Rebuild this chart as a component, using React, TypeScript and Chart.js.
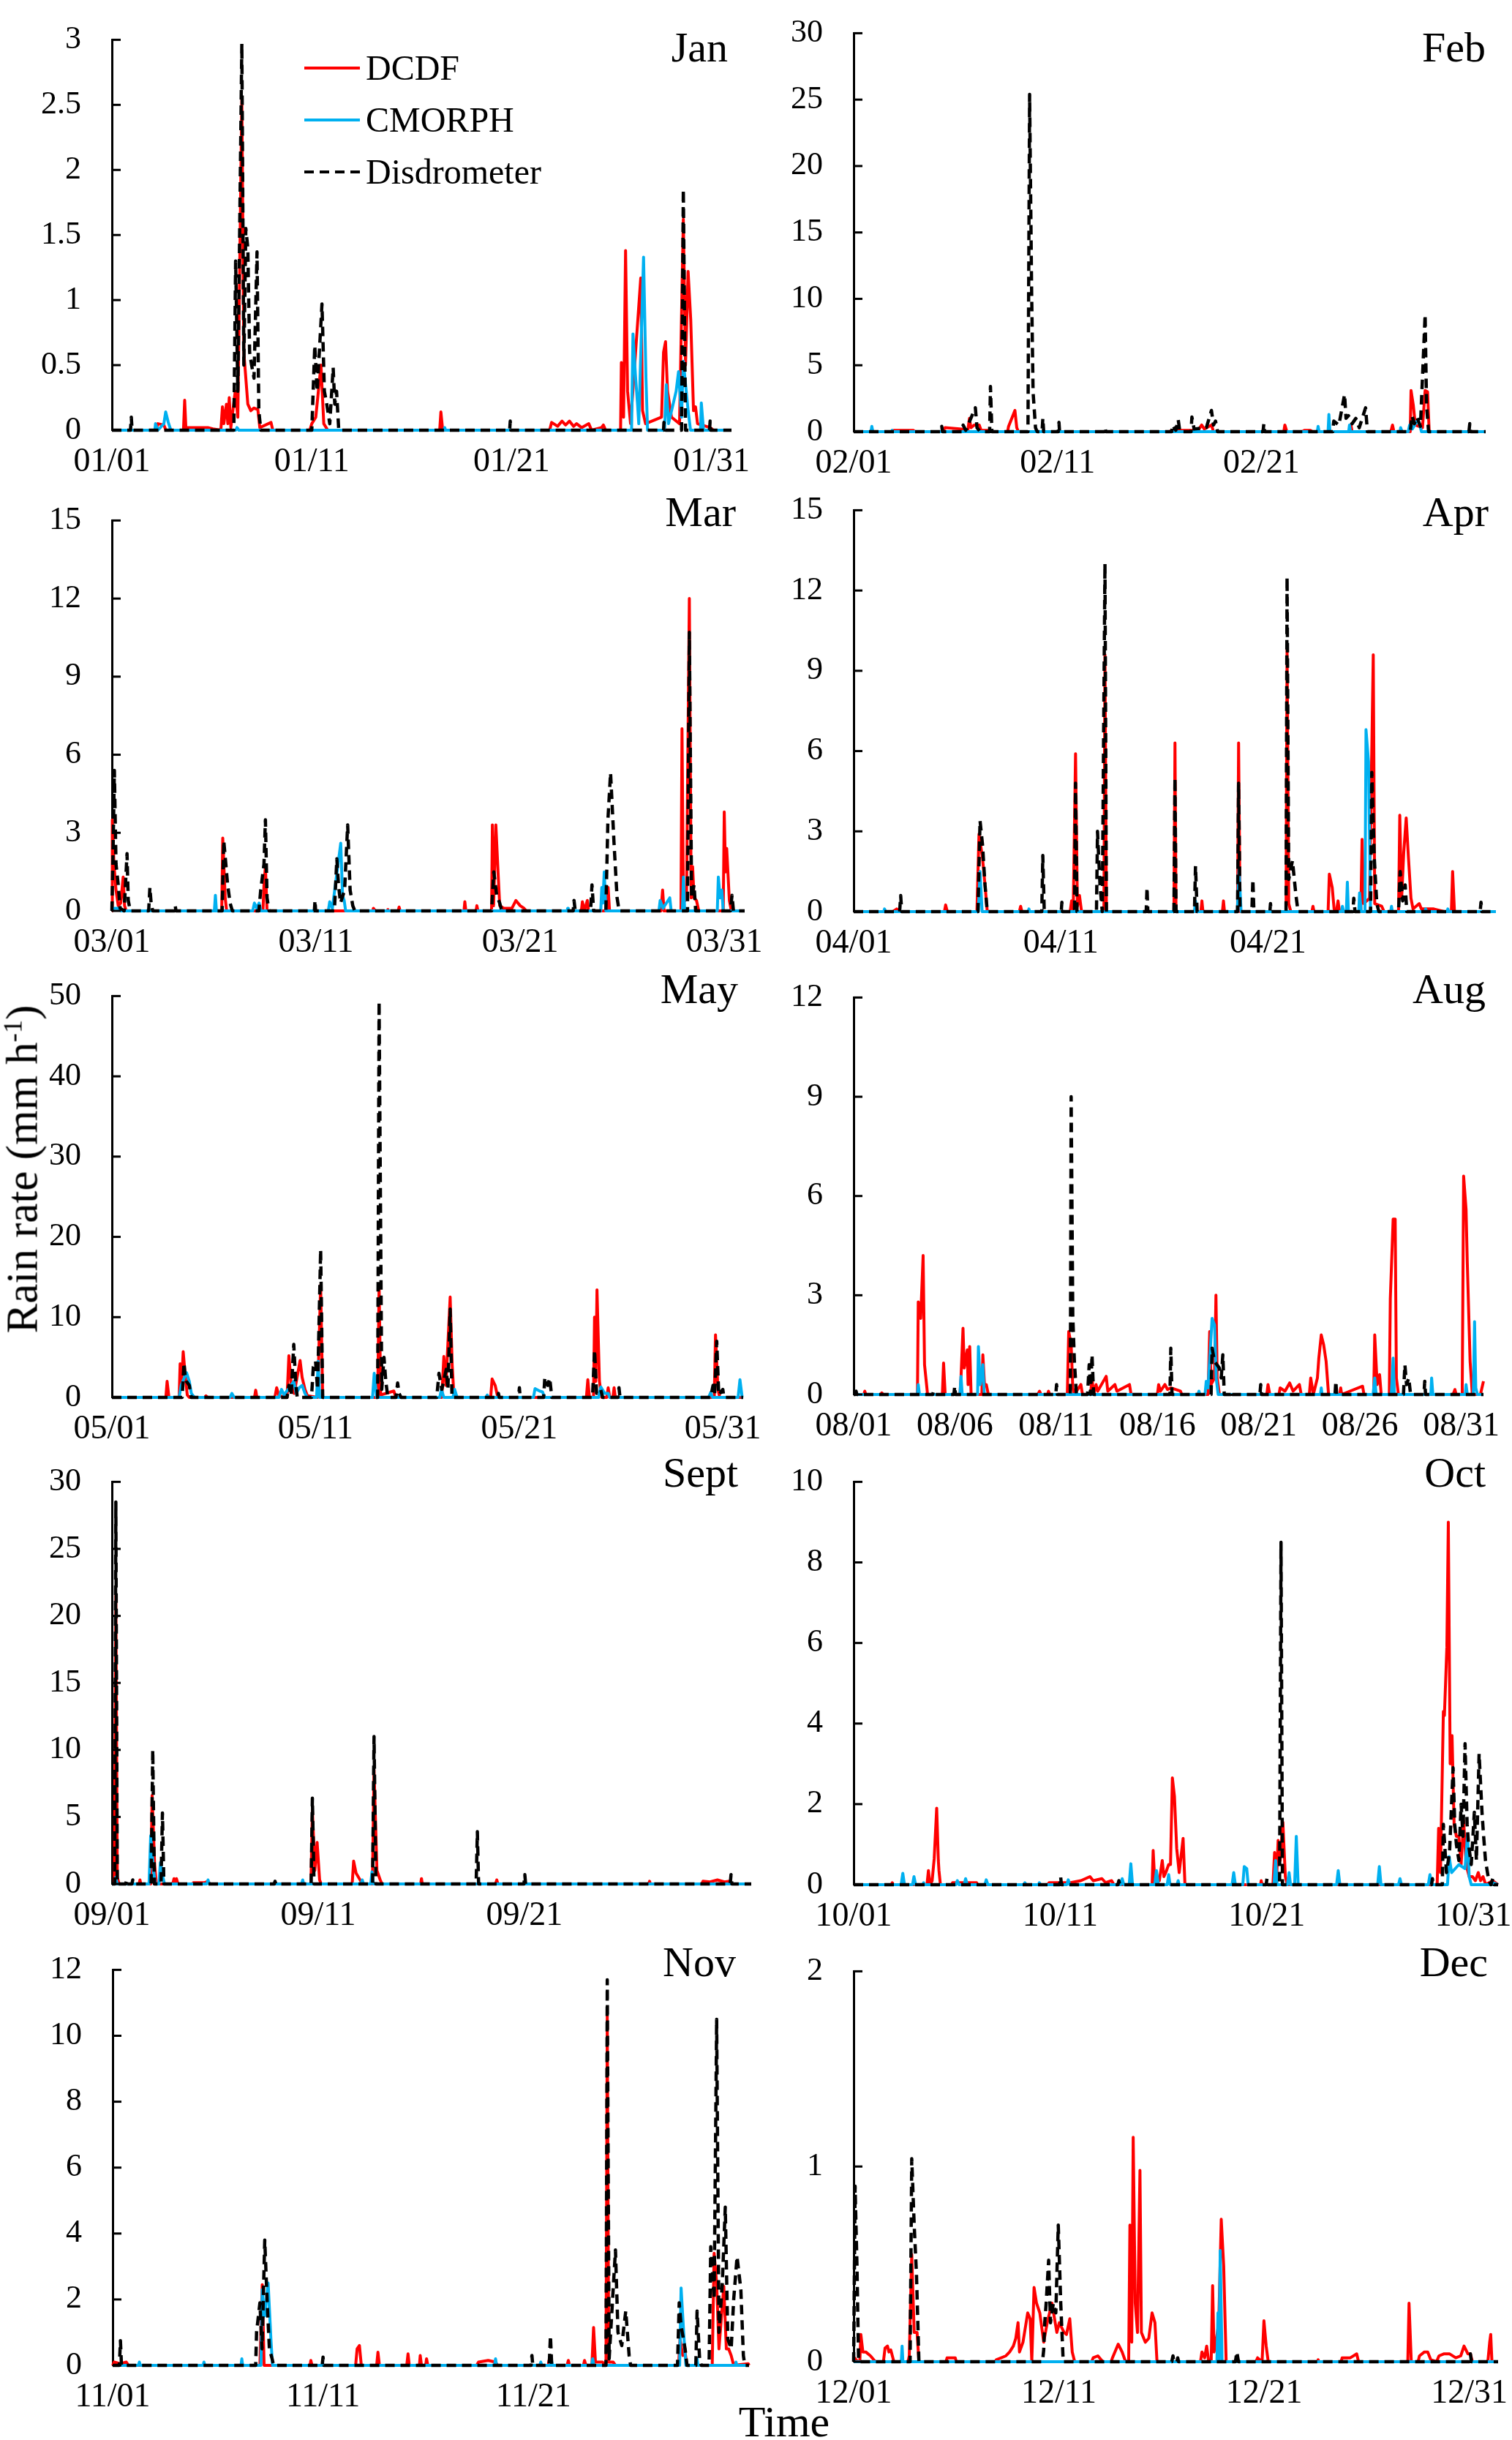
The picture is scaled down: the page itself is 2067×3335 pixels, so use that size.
import { useEffect, useRef } from "react";
import Chart from "chart.js/auto";

type Pt = [number, number];

// ---------- data: [day of month, rain rate mm/h] ----------
const janDcdf: Pt[] = [[1,0],[3.2,0],[3.3,0.05],[3.6,0.04],[3.7,0],[4.58,0],[4.64,0.23],[4.7,0.02],[5.0,0.02],[5.8,0.02],[6.05,0.01],[6.45,0],[6.53,0.18],[6.6,0.05],[6.73,0.2],[6.8,0.05],[6.87,0.25],[6.95,0.02],[7.17,0.3],[7.3,0.1],[7.5,2.55],[7.6,0.6],[7.7,0.4],[7.8,0.2],[7.95,0.15],[8.1,0.17],[8.3,0.16],[8.4,0.02],[8.96,0.06],[9.05,0],[10.9,0],[11.0,0.05],[11.2,0.1],[11.46,0.5],[11.6,0.05],[11.8,0],[17.4,0],[17.46,0.14],[17.55,0],[22.9,0],[23.0,0.06],[23.3,0.03],[23.52,0.07],[23.7,0.04],[23.89,0.07],[24.1,0.03],[24.25,0.05],[24.5,0.02],[24.86,0.05],[25.0,0],[25.5,0.02],[25.59,0.04],[25.7,0],[26.45,0],[26.49,0.52],[26.6,0.1],[26.7,1.38],[26.8,0.3],[26.95,0.05],[27.46,1.17],[27.55,0.15],[27.7,0.05],[28.5,0.1],[28.6,0.6],[28.7,0.68],[28.8,0.3],[29.0,0.1],[29.4,0.05],[29.59,1.62],[29.7,0.5],[29.83,1.22],[29.96,0.85],[30.1,0.15],[30.2,0.18],[30.3,0.05],[30.93,0.02],[31.1,0],[32,0]];
const janCmorph: Pt[] = [[1,0],[3.15,0],[3.18,0.05],[3.3,0],[3.6,0.05],[3.69,0.14],[3.82,0.06],[3.95,0],[7.2,0],[7.26,0.02],[7.35,0],[17.6,0],[17.65,0.02],[17.7,0],[27.0,0],[27.07,0.74],[27.19,0.43],[27.3,0.2],[27.36,0.05],[27.6,1.33],[27.72,0.4],[27.8,0],[28.65,0],[28.74,0.35],[28.85,0.05],[29.23,0.3],[29.35,0.45],[29.5,0.1],[29.59,0.53],[29.83,0.15],[29.95,0],[30.45,0],[30.49,0.21],[30.6,0],[32,0]];
const janDisdro: Pt[] = [[1,0],[1.93,0],[1.97,0.1],[2.01,0],[7.1,0],[7.19,1.3],[7.3,0.3],[7.5,2.97],[7.6,0.5],[7.7,1.55],[7.8,1.4],[7.89,0.6],[7.99,0.5],[8.11,0.4],[8.26,1.37],[8.35,0.15],[8.45,0],[11.0,0],[11.15,0.65],[11.27,0.3],[11.51,0.97],[11.63,0.3],[11.75,0.2],[11.9,0.05],[12.07,0.48],[12.15,0.2],[12.24,0.3],[12.35,0],[20.9,0],[20.93,0.07],[20.96,0],[28.6,0],[28.62,0.06],[28.7,0],[29.5,0],[29.59,1.85],[29.7,0],[30.9,0],[30.93,0.07],[30.96,0],[32,0]];

const febDcdf: Pt[] = [[1,0],[2.9,0],[2.97,0.1],[3.93,0.1],[4.0,0],[5.35,0],[5.48,0.3],[6.3,0.2],[6.6,0.1],[6.68,1.0],[6.75,0.3],[6.92,0.5],[7.16,0.5],[7.25,0.1],[7.6,0.1],[7.7,0],[8.55,0],[8.6,0.4],[8.91,1.6],[9.0,0.3],[9.08,0],[16.5,0],[16.6,0.1],[17.9,0.1],[18.07,0.5],[18.2,0.2],[18.55,0.5],[18.65,0],[22.1,0],[22.15,0.5],[22.25,0],[23.0,0],[23.11,0.1],[23.4,0.1],[23.5,0],[25.35,0],[25.39,0.5],[25.45,0],[27.35,0],[27.43,0.5],[27.5,0],[28.3,0],[28.34,3.1],[28.45,2.0],[28.55,0.5],[28.9,0.3],[29.03,3.1],[29.15,3.0],[29.23,0],[32,0]];
const febCmorph: Pt[] = [[1,0],[1.85,0],[1.89,0.4],[1.94,0],[2.85,0],[2.89,0.1],[2.93,0],[23.74,0],[23.78,0.4],[23.83,0],[24.27,0],[24.31,1.3],[24.36,0],[25.28,0],[25.32,0.5],[25.37,0],[27.8,0],[27.83,0.3],[27.9,0],[28.2,0],[28.27,0.5],[28.4,0.2],[28.63,0.8],[28.75,0.6],[28.85,0],[32,0]];
const febDisdro: Pt[] = [[1,0],[5.28,0],[5.32,0.4],[5.36,0],[6.3,0],[6.37,0.5],[6.5,0.1],[6.97,1.8],[7.05,0.3],[7.2,0],[7.67,0],[7.71,3.4],[7.78,0],[9.55,0],[9.63,25.4],[9.73,10.5],[9.8,3.0],[9.92,0.3],[10.0,0],[10.24,0],[10.28,1.0],[10.32,0],[11.04,0],[11.07,0.7],[11.1,0],[13.3,0],[13.33,0.3],[13.37,0],[16.6,0],[16.64,0.5],[16.8,0.1],[16.92,0.9],[17.0,0],[17.55,0],[17.59,1.1],[17.7,0.2],[18.3,0.3],[18.55,1.6],[18.65,0.5],[18.75,0.8],[18.85,0],[21.08,0],[21.12,0.6],[21.16,0],[24.5,0],[24.55,0.8],[24.8,0.5],[25.08,2.8],[25.15,1.0],[25.27,1.2],[25.45,0.6],[25.63,1.0],[25.8,0.3],[26.11,1.8],[26.2,0],[28.3,0],[28.39,1.2],[28.5,0.6],[28.63,1.1],[28.8,0.4],[29.03,8.8],[29.1,2.0],[29.2,0],[31.18,0],[31.22,0.6],[31.26,0],[32,0]];

const marDcdf: Pt[] = [[1,0],[1.02,3.5],[1.1,1.8],[1.2,0.8],[1.31,0.2],[1.43,0.3],[1.55,1.3],[1.62,0.2],[1.7,0],[6.38,0],[6.43,2.8],[6.55,0.5],[6.62,0],[8.4,0],[8.45,1.0],[8.52,1.7],[8.6,0],[13.78,0],[13.81,0.1],[13.9,0],[14.5,0],[14.52,0.05],[14.56,0],[15.03,0],[15.07,0.15],[15.12,0],[18.25,0],[18.29,0.35],[18.34,0],[18.84,0],[18.88,0.2],[18.93,0],[19.6,0],[19.64,3.3],[19.7,0.2],[19.81,3.3],[19.93,1.3],[20.0,0.2],[20.2,0.1],[20.6,0.1],[20.79,0.4],[21.0,0.2],[21.19,0.1],[21.3,0],[24.0,0],[24.05,0.35],[24.15,0],[24.29,0.4],[24.35,0],[25.25,0],[25.31,0.9],[25.38,0],[27.9,0],[27.98,0.8],[28.05,0],[28.88,0],[28.93,7.0],[29.0,0.3],[29.15,0.5],[29.29,12.0],[29.38,0.5],[29.45,1.7],[29.52,0.5],[29.64,0.4],[29.75,0],[30.95,0],[31.0,3.8],[31.06,1.5],[31.12,2.4],[31.25,0.4],[31.35,0],[32,0]];
const marCmorph: Pt[] = [[1,0],[1.1,0.1],[1.3,0.1],[1.45,0],[6.02,0],[6.07,0.6],[6.12,0],[7.9,0],[7.98,0.3],[8.1,0.1],[8.21,0.3],[8.3,0],[11.6,0],[11.67,0.35],[11.8,0.1],[12.21,2.6],[12.3,0.6],[12.38,0.4],[12.45,0],[23.3,0],[23.33,0.1],[23.36,0],[24.95,0],[25.0,0.9],[25.05,0.3],[25.12,1.5],[25.2,0],[27.8,0],[27.86,0.4],[28.0,0.1],[28.33,0.5],[28.4,0],[28.95,0],[29.0,1.3],[29.06,0],[30.66,0],[30.71,1.3],[30.8,0.5],[30.88,0.8],[30.95,0],[32,0]];
const marDisdro: Pt[] = [[1,0],[1.06,2.5],[1.12,5.4],[1.2,1.8],[1.31,1.0],[1.4,0.1],[1.6,0],[1.74,2.2],[1.8,0.4],[1.9,0],[2.8,0],[2.86,0.9],[2.92,0.3],[3.0,0],[4.07,0],[4.1,0.2],[4.14,0],[6.4,0],[6.48,2.7],[6.67,1.0],[6.79,0.3],[6.9,0],[8.2,0],[8.29,0.8],[8.45,1.8],[8.52,3.5],[8.6,0.5],[8.7,0],[10.92,0],[10.95,0.4],[10.98,0],[11.9,0],[12.02,2.0],[12.1,1.0],[12.2,0.3],[12.4,0.8],[12.55,3.3],[12.67,0.8],[12.8,0.2],[12.9,0],[19.6,0],[19.71,1.5],[19.85,0.6],[20.0,0.3],[20.1,0],[23.6,0],[23.64,0.4],[23.7,0],[24.45,0],[24.52,1.0],[24.6,0],[25.2,0],[25.3,3.5],[25.43,5.3],[25.6,2.6],[25.75,0.5],[25.85,0],[29.2,0],[29.29,10.7],[29.4,0.5],[29.52,1.0],[29.6,0],[31.3,0],[31.38,0.6],[31.45,0],[32,0]];

const aprDcdf: Pt[] = [[1,0],[2.9,0],[3.08,0.1],[3.2,0],[5.38,0],[5.44,0.25],[5.52,0],[6.95,0],[7.05,2.9],[7.22,2.0],[7.34,1.0],[7.45,0],[9.0,0],[9.06,0.2],[9.12,0],[11.45,0],[11.52,0.4],[11.6,0.1],[11.71,5.9],[11.8,0.2],[11.9,0.6],[12.0,0],[13.08,0],[13.13,9.6],[13.2,0],[16.46,0],[16.51,6.3],[16.56,0],[17.76,0],[17.81,0.4],[17.86,0],[18.8,0],[18.85,0.4],[18.9,0],[19.53,0],[19.58,6.3],[19.65,0],[21.87,0],[21.92,9.8],[22.0,0.3],[22.1,0],[23.12,0],[23.17,0.2],[23.22,0],[23.9,0],[23.96,1.4],[24.1,0.9],[24.19,0.1],[24.3,0],[24.38,0.4],[24.45,0],[25.48,0],[25.54,2.7],[25.62,0.3],[25.9,0.5],[26.08,9.6],[26.15,0.3],[26.49,0.2],[26.6,0],[27.3,0],[27.36,3.6],[27.45,0.5],[27.55,2.2],[27.67,3.5],[27.78,2.0],[27.9,0.5],[28.0,0.1],[28.3,0.3],[28.4,0.1],[29.0,0.1],[29.5,0],[29.85,0],[29.91,1.5],[30.0,0],[32,0]];
const aprCmorph: Pt[] = [[1,0],[2.45,0],[2.49,0.1],[2.55,0],[7.02,0],[7.1,1.5],[7.2,0],[9.42,0],[9.46,0.1],[9.5,0],[17.45,0],[17.5,0.4],[17.56,0],[19.52,0],[19.6,1.6],[19.7,0],[24.55,0],[24.59,0.2],[24.65,0],[24.78,0],[24.83,1.1],[24.88,0],[25.38,0],[25.42,0.7],[25.5,0],[25.68,0],[25.73,6.8],[25.85,5.6],[25.95,0],[26.92,0],[26.96,0.2],[27.0,0],[28.57,0],[28.61,0.1],[28.65,0],[29.64,0],[29.68,0.1],[29.72,0],[32,0]];
const aprDisdro: Pt[] = [[1,0],[3.22,0],[3.27,0.6],[3.32,0],[7.0,0],[7.1,3.4],[7.22,2.5],[7.34,1.0],[7.45,0],[10.08,0],[10.13,2.1],[10.2,0],[11.02,0],[11.05,0.35],[11.08,0],[11.66,0],[11.71,4.8],[11.78,0],[12.72,0],[12.77,3.0],[12.89,1.0],[13.0,0],[13.13,13.0],[13.2,0],[15.12,0],[15.16,0.9],[15.2,0],[16.46,0],[16.51,5.0],[16.56,0],[17.45,0],[17.5,1.7],[17.58,0],[19.53,0],[19.58,4.8],[19.65,0],[20.22,0],[20.27,1.2],[20.32,0],[21.09,0],[21.12,0.3],[21.15,0],[21.87,0],[21.92,12.5],[22.0,1.2],[22.18,1.9],[22.35,0.6],[22.45,0],[25.1,0],[25.14,0.5],[25.2,0],[25.95,0],[26.01,5.2],[26.13,2.0],[26.25,0.3],[26.35,0],[27.3,0],[27.38,1.5],[27.5,0.4],[27.62,1.0],[27.7,0],[31.24,0],[31.28,0.35],[31.32,0],[32,0]];

const mayDcdf: Pt[] = [[1,0],[3.65,0],[3.71,2.0],[3.8,0],[4.3,0],[4.35,4.2],[4.42,1.5],[4.5,5.7],[4.59,3.0],[4.7,0.3],[4.8,0],[5.55,0],[5.62,0.2],[5.7,0],[8.0,0],[8.06,0.9],[8.12,0],[9.0,0],[9.09,1.2],[9.2,0.2],[9.6,0],[9.69,5.2],[9.81,1.5],[9.95,0.5],[10.24,4.6],[10.34,2.5],[10.48,1.0],[10.6,0.2],[11.1,0],[11.25,14.0],[11.35,0],[14.05,0],[14.12,14.0],[14.2,0.3],[14.84,0.8],[14.95,0],[17.2,0],[17.3,5.1],[17.4,1.5],[17.61,12.5],[17.71,4.0],[17.8,0],[19.6,0],[19.67,2.3],[19.82,1.5],[19.95,0],[24.3,0],[24.37,2.2],[24.45,0],[24.65,0],[24.7,10.0],[24.76,2.0],[24.82,13.4],[24.94,2.0],[25.05,0],[25.3,0],[25.37,1.2],[25.45,0],[25.6,0],[25.66,1.2],[25.72,0],[30.58,0],[30.64,7.8],[30.76,1.0],[30.85,0],[32,0]];
const mayCmorph: Pt[] = [[1,0],[4.3,0],[4.4,1.5],[4.66,3.1],[4.8,2.0],[4.9,0.5],[5.05,0],[6.8,0],[6.89,0.5],[7.0,0],[9.2,0],[9.33,1.0],[9.45,0.3],[9.93,2.0],[10.05,0.5],[10.2,1.2],[10.34,1.5],[10.48,0.5],[10.6,0],[11.05,0],[11.13,4.5],[11.2,0],[13.8,0],[13.88,3.0],[14.0,0],[17.1,0],[17.18,1.0],[17.3,0],[17.75,0],[17.83,1.0],[17.95,0],[19.38,0],[19.43,0.3],[19.5,0],[21.7,0],[21.78,1.1],[22.0,0.8],[22.14,0.7],[22.25,0],[24.9,0],[25.01,1.3],[25.2,0.5],[25.37,0.5],[25.45,0],[30.3,0],[30.4,0.6],[30.5,0],[31.75,0],[31.84,2.2],[31.95,0],[32,0]];
const mayDisdro: Pt[] = [[1,0],[4.45,0],[4.54,4.3],[4.6,2.5],[4.66,2.0],[4.8,1.5],[4.9,0],[9.6,0],[9.69,1.5],[9.8,0.2],[9.93,6.6],[10.02,2.0],[10.1,0],[10.8,0],[10.89,3.8],[11.0,4.5],[11.1,1.0],[11.25,18.4],[11.35,0],[14.05,0],[14.12,49.3],[14.25,1.0],[14.36,5.0],[14.45,2.0],[14.55,0],[14.95,0],[15.03,1.8],[15.1,0.5],[15.2,0],[16.95,0],[17.06,3.0],[17.2,1.0],[17.42,3.5],[17.5,1.0],[17.61,11.0],[17.7,0],[19.95,0],[19.98,0.5],[20.02,0],[20.97,0],[21.01,1.2],[21.05,0],[22.2,0],[22.26,2.5],[22.4,1.5],[22.5,2.4],[22.6,0],[24.6,0],[24.7,5.9],[24.8,0.5],[25.0,1.0],[25.1,0],[25.85,0],[25.9,1.2],[25.95,0],[30.4,0],[30.52,1.5],[30.6,0.5],[30.7,7.0],[30.8,0.3],[31.0,1.0],[31.05,0],[32,0]];

const augDcdf: Pt[] = [[1,0],[1.5,0],[1.55,0.1],[1.6,0],[2.35,0],[2.39,0.05],[2.45,0],[4.15,0],[4.19,2.8],[4.31,2.3],[4.43,4.2],[4.5,0.9],[4.55,0.6],[4.65,0],[5.38,0],[5.44,0.95],[5.52,0],[6.25,0],[6.3,0.5],[6.4,2.0],[6.46,0.8],[6.52,1.0],[6.61,1.35],[6.65,0.3],[6.73,1.45],[6.8,0],[7.33,0],[7.38,1.2],[7.46,0.3],[7.55,0.3],[7.65,0],[10.1,0],[10.18,0.1],[10.25,0],[10.58,0],[10.62,0.1],[10.68,0],[11.55,0],[11.62,1.9],[11.74,1.5],[11.82,0.2],[11.9,0],[12.22,0.3],[12.3,0],[12.7,0],[12.77,0.5],[12.85,0],[12.97,0.3],[13.05,0.1],[13.47,0.55],[13.55,0.1],[13.9,0.3],[14.0,0.1],[14.62,0.3],[14.7,0],[16.0,0],[16.06,0.3],[16.15,0.1],[16.37,0.3],[16.5,0.15],[16.66,0.2],[16.9,0.15],[17.14,0.1],[17.2,0],[18.5,0],[18.58,1.9],[18.65,0.3],[18.82,0.5],[18.89,3.0],[18.95,0.5],[19.06,0],[21.4,0],[21.46,0.3],[21.55,0],[22.0,0],[22.06,0.2],[22.3,0.1],[22.53,0.35],[22.7,0.1],[23.01,0.3],[23.1,0],[23.5,0],[23.57,0.5],[23.7,0],[23.9,0.5],[23.97,1.1],[24.09,1.8],[24.21,1.5],[24.33,1.0],[24.45,0],[25.0,0],[25.05,0.2],[25.1,0],[25.5,0.1],[26.13,0.25],[26.2,0],[26.68,0],[26.73,1.8],[26.85,0.3],[26.97,0.6],[27.05,0],[27.45,0],[27.5,2.9],[27.64,5.3],[27.74,5.3],[27.8,0.5],[27.9,0],[30.6,0],[30.69,0.15],[30.75,0],[31.05,0],[31.12,6.6],[31.24,5.6],[31.3,4.0],[31.44,1.0],[31.55,0],[31.95,0],[32.1,0.4]];
const augCmorph: Pt[] = [[1,0],[4.15,0],[4.19,0.3],[4.25,0],[6.25,0],[6.3,0.55],[6.36,0],[7.12,0],[7.16,1.45],[7.25,0.3],[7.38,0.9],[7.45,0],[18.0,0],[18.05,0.1],[18.1,0],[18.35,0],[18.41,0.4],[18.5,0.2],[18.7,2.3],[18.82,2.1],[18.9,0.5],[19.0,0],[24.05,0],[24.09,0.2],[24.13,0],[26.65,0],[26.73,0.5],[26.8,0],[27.55,0],[27.64,1.1],[27.7,0],[29.5,0],[29.54,0.5],[29.6,0],[31.2,0],[31.24,0.3],[31.3,0],[31.6,0],[31.66,2.2],[31.72,0.2],[31.8,0],[32.1,0]];
const augDisdro: Pt[] = [[1,0],[1.08,0],[1.12,0.1],[1.16,0],[4.9,0],[4.95,0.1],[5.0,0],[5.95,0],[5.99,0.25],[6.03,0],[10.98,0],[11.02,0.3],[11.06,0],[11.7,0],[11.74,9.0],[11.82,2.4],[11.9,1.0],[12.0,0],[12.55,0],[12.63,0.9],[12.7,0],[12.77,1.2],[12.85,0],[16.62,0],[16.66,1.4],[16.72,0],[18.65,0],[18.7,1.4],[18.82,1.0],[19.06,0.8],[19.15,0.5],[19.23,1.2],[19.3,0],[19.62,0],[19.66,0.1],[19.7,0],[21.06,0],[21.1,0.3],[21.14,0],[24.77,0],[24.81,0.4],[24.85,0],[28.15,0],[28.22,0.9],[28.3,0.3],[28.41,0.5],[28.5,0],[29.16,0],[29.2,0.4],[29.24,0],[32.1,0]];

const sepDcdf: Pt[] = [[1,0],[1.12,0],[1.19,21.5],[1.26,0.5],[1.35,0],[2.32,0],[2.36,0.3],[2.4,0],[2.88,0],[2.95,6.6],[3.07,1.5],[3.15,0],[3.95,0],[4.01,0.4],[4.08,0],[4.13,0.4],[4.2,0],[4.9,0],[4.95,0.1],[5.5,0.1],[5.66,0.2],[5.75,0],[10.65,0],[10.72,5.5],[10.84,1.0],[10.95,3.1],[11.07,0.3],[11.15,0],[12.65,0],[12.72,1.7],[12.84,0.8],[13.07,0.2],[13.15,0],[13.63,0],[13.71,8.5],[13.85,1.0],[14.01,0.3],[14.1,0],[15.97,0],[16.01,0.4],[16.05,0],[19.6,0],[19.66,0.3],[19.72,0],[27.03,0],[27.07,0.2],[27.11,0],[29.6,0],[29.66,0.2],[30.0,0.15],[30.36,0.3],[30.7,0.15],[30.95,0.2],[31.05,0],[32,0]];
const sepCmorph: Pt[] = [[1,0],[1.15,0],[1.19,0.5],[1.25,0],[2.8,0],[2.88,3.6],[3.02,1.0],[3.1,0],[3.28,0],[3.35,1.6],[3.47,0.5],[3.55,0],[5.6,0],[5.66,0.3],[5.72,0],[10.2,0],[10.25,0.3],[10.3,0],[13.08,0],[13.14,0.3],[13.2,0],[13.55,0],[13.61,0.9],[13.68,0],[32,0]];
const sepDisdro: Pt[] = [[1,0],[1.14,0],[1.19,28.5],[1.26,0],[1.67,0],[1.71,0.3],[1.75,0],[1.97,0],[2.01,0.3],[2.05,0],[2.9,0],[2.98,10.0],[3.06,0],[3.38,0],[3.45,5.3],[3.52,0],[8.87,0],[8.91,0.2],[8.95,0],[10.66,0],[10.72,6.4],[10.8,0],[13.64,0],[13.71,11.0],[13.8,0],[18.66,0],[18.72,3.9],[18.78,0],[20.98,0],[21.02,0.7],[21.06,0],[30.98,0],[31.02,0.7],[31.06,0],[32,0]];

const octDcdf: Pt[] = [[1,0],[2.83,0],[2.87,0.05],[2.92,0],[4.55,0],[4.62,0.35],[4.7,0],[4.8,0.1],[4.9,0.65],[5.02,1.9],[5.1,0.6],[5.13,0.35],[5.2,0],[5.75,0],[5.79,0.05],[6.95,0.05],[7.0,0],[10.4,0],[10.46,0.05],[11.5,0.05],[12.0,0.1],[12.44,0.2],[12.6,0.1],[13.02,0.15],[13.2,0.05],[13.49,0.1],[13.6,0],[15.45,0],[15.5,0.85],[15.58,0.05],[15.64,0.2],[15.8,0.1],[15.94,0.6],[16.02,0.2],[16.11,0.3],[16.25,0.5],[16.34,0.5],[16.43,2.65],[16.53,2.2],[16.64,0.9],[16.76,0.3],[16.95,1.15],[17.04,0],[20.7,0],[20.73,0.1],[20.77,0],[21.3,0],[21.38,0.8],[21.48,0.2],[21.55,1.1],[21.65,0.6],[21.78,1.55],[21.9,0.2],[22.0,0],[29.25,0],[29.32,1.4],[29.41,0.3],[29.55,4.3],[29.6,4.2],[29.72,5.9],[29.79,9.0],[29.88,3.0],[29.97,3.7],[30.07,1.5],[30.18,1.2],[30.3,1.2],[30.41,0.5],[30.53,1.6],[30.65,0.5],[30.8,0.2],[30.96,0.2],[31.1,0.1],[31.24,0.3],[31.35,0.1],[31.47,0.2],[31.6,0],[31.94,0.1],[32.2,0]];
const octCmorph: Pt[] = [[1,0],[3.3,0],[3.38,0.28],[3.46,0],[3.85,0],[3.92,0.2],[4.0,0],[4.35,0],[4.39,0.05],[4.43,0],[5.95,0],[6.02,0.1],[6.1,0],[6.35,0],[6.42,0.15],[6.5,0],[7.35,0],[7.42,0.12],[7.5,0],[9.25,0],[9.29,0.05],[9.35,0],[9.95,0],[9.99,0.05],[10.05,0],[11.32,0],[11.39,0.12],[11.46,0],[13.93,0],[14.0,0.15],[14.08,0],[14.34,0],[14.42,0.52],[14.5,0],[15.58,0],[15.66,0.35],[15.75,0],[16.18,0],[16.25,0.25],[16.32,0],[16.66,0],[16.71,0.1],[16.76,0],[19.32,0],[19.4,0.3],[19.48,0],[19.84,0],[19.91,0.45],[20.03,0.4],[20.1,0],[21.35,0],[21.43,0.6],[21.5,0],[22.0,0],[22.08,0.3],[22.15,0],[22.35,0],[22.43,1.2],[22.52,0],[24.38,0],[24.46,0.35],[24.54,0],[26.37,0],[26.45,0.45],[26.53,0],[27.38,0],[27.45,0.15],[27.52,0],[28.82,0],[28.9,0.25],[28.98,0],[29.75,0],[29.83,0.7],[29.95,0.3],[30.3,0.5],[30.6,0.4],[30.72,1.25],[30.8,0.2],[30.9,0],[31.9,0],[31.94,0.05],[32.2,0]];
const octDisdro: Pt[] = [[1,0],[10.98,0],[11.02,0.2],[11.06,0],[13.8,0],[13.84,0.1],[13.88,0],[20.97,0],[21.01,0.15],[21.05,0],[21.62,0],[21.69,8.5],[21.76,0],[28.98,0],[29.02,0.15],[29.06,0],[29.5,0],[29.55,1.5],[29.7,0.3],[29.85,0.8],[30.02,2.9],[30.1,1.5],[30.18,1.0],[30.3,0.6],[30.41,2.0],[30.5,1.2],[30.6,3.5],[30.7,1.5],[30.77,1.0],[30.9,0.5],[31.05,1.8],[31.15,0.6],[31.28,3.25],[31.42,1.8],[31.5,1.2],[31.59,0.6],[31.75,0.1],[31.85,0],[31.94,0.15],[32.0,0],[32.2,0]];

const novDcdf: Pt[] = [[1,0],[1.07,0.1],[1.37,0.05],[1.65,0.1],[1.75,0],[8.0,0],[8.11,2.45],[8.2,0],[10.38,0],[10.42,0.15],[10.48,0],[12.55,0],[12.62,0.5],[12.73,0.6],[12.82,0],[13.55,0],[13.61,0.4],[13.68,0],[14.98,0],[15.04,0.35],[15.1,0],[15.58,0],[15.62,0.3],[15.68,0],[15.88,0],[15.92,0.2],[15.98,0],[18.3,0],[18.39,0.1],[18.85,0.15],[19.2,0.1],[19.3,0],[21.7,0],[21.74,0.15],[21.8,0],[22.6,0],[22.66,0.15],[22.72,0],[23.38,0],[23.43,0.15],[23.5,0],[23.78,0],[23.86,1.15],[23.95,0.1],[24.28,0.1],[24.45,0],[24.51,10.6],[24.58,0.1],[24.79,0.1],[24.9,0],[27.9,0],[27.97,0.8],[28.1,0.3],[28.21,0.4],[28.3,0],[29.5,0],[29.59,3.4],[29.71,2.5],[29.82,0.5],[30.05,2.4],[30.17,0.5],[30.28,0.5],[30.4,0.3],[30.52,0],[31.21,0.05],[31.25,0]];
const novCmorph: Pt[] = [[1,0],[2.22,0],[2.27,0.1],[2.32,0],[5.3,0],[5.34,0.1],[5.38,0],[7.1,0],[7.14,0.2],[7.18,0],[8.05,0],[8.11,2.3],[8.23,1.5],[8.39,2.5],[8.53,0.7],[8.6,0],[19.15,0],[19.2,0.2],[19.25,0],[21.3,0],[21.35,0.1],[21.4,0],[21.8,0],[21.85,0.2],[21.9,0],[23.77,0],[23.82,0.2],[23.87,0],[27.95,0],[28.02,2.35],[28.16,0.8],[28.25,0],[28.74,0],[28.78,0.2],[28.82,0],[30.6,0],[30.63,0.1],[30.67,0],[31.25,0]];
const novDisdro: Pt[] = [[1,0],[1.32,0],[1.37,0.75],[1.42,0],[7.8,0],[7.84,1.0],[8.0,1.9],[8.1,0.5],[8.23,3.8],[8.34,2.0],[8.45,0.5],[8.58,0.2],[8.65,0],[10.96,0],[11.0,0.25],[11.04,0],[20.89,0],[20.93,0.3],[20.97,0],[21.75,0],[21.81,0.9],[21.87,0],[24.45,0],[24.51,11.7],[24.6,0.2],[24.9,3.5],[25.02,1.0],[25.2,0.6],[25.39,1.65],[25.55,0.3],[25.62,0],[27.85,0],[27.93,1.9],[28.02,1.2],[28.21,0.5],[28.3,0],[28.72,0],[28.78,1.65],[28.9,0.2],[28.98,0],[29.35,0],[29.43,3.6],[29.59,2.0],[29.71,10.5],[29.82,1.0],[29.98,2.5],[30.12,4.8],[30.24,0.8],[30.4,0.5],[30.52,2.0],[30.68,3.3],[30.86,2.3],[30.98,0.3],[31.05,0],[31.25,0]];

const decDcdf: Pt[] = [[1,0],[1.04,0.02],[1.2,0],[1.3,0],[1.35,0.14],[1.45,0.05],[1.59,0.05],[1.82,0.03],[2.06,0],[2.45,0],[2.53,0.07],[2.65,0.08],[2.72,0.05],[2.81,0.06],[2.96,0],[3.65,0],[3.71,0.03],[3.83,0.55],[3.95,0.15],[4.09,0.15],[4.18,0],[5.5,0],[5.55,0.02],[5.95,0.02],[6.0,0],[7.9,0],[7.95,0.01],[8.42,0.03],[8.6,0.05],[8.78,0.08],[8.9,0.12],[9.01,0.2],[9.08,0.05],[9.25,0.1],[9.48,0.25],[9.6,0.22],[9.68,0],[9.79,0.38],[9.91,0.3],[10.07,0.25],[10.26,0.1],[10.43,0.2],[10.66,0.3],[10.9,0.15],[11.02,0.2],[11.25,0.15],[11.37,0.14],[11.53,0.22],[11.65,0.05],[11.77,0],[12.6,0],[12.67,0.02],[12.9,0.03],[13.14,0],[13.55,0],[13.61,0.02],[13.89,0.09],[14.08,0.05],[14.25,0],[14.4,0],[14.46,0.7],[14.55,0.1],[14.62,1.15],[14.72,0.3],[14.83,0.15],[14.95,0.98],[15.02,0.15],[15.21,0.1],[15.38,0.12],[15.54,0.25],[15.68,0.2],[15.78,0],[17.9,0],[17.97,0.05],[18.1,0.02],[18.2,0.08],[18.3,0],[18.42,0],[18.49,0.39],[18.56,0.05],[18.68,0.12],[18.79,0.2],[18.91,0.73],[19.03,0.49],[19.15,0],[20.6,0],[20.68,0.02],[20.9,0],[20.99,0.21],[21.1,0.08],[21.2,0],[23.6,0],[23.63,0.01],[23.67,0],[24.75,0],[24.8,0.02],[25.2,0.02],[25.51,0.04],[25.6,0],[28.0,0],[28.06,0.3],[28.17,0],[28.5,0],[28.57,0.03],[28.81,0.05],[28.97,0.05],[29.12,0.01],[29.4,0],[29.52,0.03],[29.75,0.04],[30.04,0.04],[30.34,0.02],[30.58,0.03],[30.74,0.08],[30.93,0.04],[31.05,0.04],[31.15,0],[31.9,0],[31.99,0.1],[32.04,0.14],[32.1,0],[32.4,0]];
const decCmorph: Pt[] = [[1,0],[3.32,0],[3.36,0.08],[3.4,0],[18.7,0],[18.75,0.25],[18.8,0],[18.86,0.57],[18.95,0],[32.4,0]];
const decDisdro: Pt[] = [[1,0],[1.07,0.9],[1.16,0.5],[1.24,0],[3.75,0],[3.83,1.04],[3.95,0.7],[4.06,0.45],[4.18,0],[10.2,0],[10.26,0.06],[10.31,0.2],[10.38,0.3],[10.5,0.52],[10.59,0.2],[10.73,0.3],[10.85,0.25],[10.97,0.7],[11.09,0.3],[11.21,0],[16.5,0],[16.56,0.03],[16.6,0],[16.75,0],[16.79,0.02],[16.83,0],[19.6,0],[19.67,0.05],[19.75,0],[31.0,0],[31.05,0.04],[31.1,0],[32.4,0]];

// tick days shown on the x axes
const ticksFull = [1, 11, 21, 31];
const ticksShort = [1, 11, 21];
const ticksFive = [1, 6, 11, 16, 21, 26, 31];

const seriesNames = ["DCDF", "CMORPH", "Disdrometer"];
const seriesColors = ["#FF0000", "#00B0F0", "#000000"];

const FONT = "'Liberation Serif', 'Times New Roman', serif";
const W = 2067;
const H = 3335;
const PADL = 120;
const PADT = 40;
const PADR = 90;
const PADB = 80;

const panels = [
  { name: "Jan", month: 1, series: [janDcdf, janCmorph, janDisdro], yMax: 3, yStep: 0.5, xMax: 32, ticks: ticksFull, box: { left: 153, right: 1000, top: 26, bottom: 588 }, labelRight: 995, labelTop: 36 },
  { name: "Feb", month: 2, series: [febDcdf, febCmorph, febDisdro], yMax: 30, yStep: 5, xMax: 32, ticks: ticksShort, box: { left: 1167, right: 2031, top: 17, bottom: 590 }, labelRight: 2031, labelTop: 36 },
  { name: "Mar", month: 3, series: [marDcdf, marCmorph, marDisdro], yMax: 15, yStep: 3, xMax: 32, ticks: ticksFull, box: { left: 153, right: 1018, top: 683, bottom: 1245 }, labelRight: 1006, labelTop: 671 },
  { name: "Apr", month: 4, series: [aprDcdf, aprCmorph, aprDisdro], yMax: 15, yStep: 3, xMax: 32, ticks: ticksShort, box: { left: 1167, right: 2045, top: 669, bottom: 1246 }, labelRight: 2035, labelTop: 671 },
  { name: "May", month: 5, series: [mayDcdf, mayCmorph, mayDisdro], yMax: 50, yStep: 10, xMax: 32, ticks: ticksFull, box: { left: 153, right: 1016, top: 1333, bottom: 1910 }, labelRight: 1009, labelTop: 1323 },
  { name: "Aug", month: 8, series: [augDcdf, augCmorph, augDisdro], yMax: 12, yStep: 3, xMax: 32.1, ticks: ticksFive, box: { left: 1167, right: 2028, top: 1335, bottom: 1906 }, labelRight: 2031, labelTop: 1323 },
  { name: "Sept", month: 9, series: [sepDcdf, sepCmorph, sepDisdro], yMax: 30, yStep: 5, xMax: 32, ticks: ticksShort, box: { left: 153, right: 1027, top: 1997, bottom: 2575 }, labelRight: 1009, labelTop: 1984 },
  { name: "Oct", month: 10, series: [octDcdf, octCmorph, octDisdro], yMax: 10, yStep: 2, xMax: 32.2, ticks: ticksFull, box: { left: 1167, right: 2048, top: 1997, bottom: 2576 }, labelRight: 2031, labelTop: 1984 },
  { name: "Nov", month: 11, series: [novDcdf, novCmorph, novDisdro], yMax: 12, yStep: 2, xMax: 31.25, ticks: ticksShort, box: { left: 154, right: 1024, top: 2664, bottom: 3233 }, labelRight: 1006, labelTop: 2653 },
  { name: "Dec", month: 12, series: [decDcdf, decCmorph, decDisdro], yMax: 2, yStep: 1, xMax: 32.4, ticks: ticksFull, box: { left: 1167, right: 2048, top: 2666, bottom: 3228 }, labelRight: 2034, labelTop: 2653 },
];

type PanelSpec = (typeof panels)[number];

// short tick marks pointing into the plot, like the original axes
const innerTicks = {
  id: "innerTicks",
  afterDatasetsDraw(chart: any) {
    const y = chart.scales.y;
    const { ctx, chartArea } = chart;
    ctx.save();
    ctx.strokeStyle = "#000";
    ctx.lineWidth = 3;
    y.ticks.forEach((t: any) => {
      const py = y.getPixelForValue(t.value);
      ctx.beginPath();
      ctx.moveTo(chartArea.left, py);
      ctx.lineTo(chartArea.left + 12, py);
      ctx.stroke();
    });
    ctx.restore();
  },
};

function Panel({ p }: { p: PanelSpec }) {
  const canvasRef = useRef<HTMLCanvasElement | null>(null);

  useEffect(() => {
    if (!canvasRef.current) return;
    const mm = String(p.month).padStart(2, "0");
    const chart = new Chart(canvasRef.current, {
      type: "line",
      data: {
        datasets: p.series.map((data, i) => ({
          label: seriesNames[i],
          data: data as any,
          borderColor: seriesColors[i],
          backgroundColor: seriesColors[i],
          borderWidth: i === 2 ? 4.5 : 4,
          borderDash: i === 2 ? [13, 8] : [],
          borderJoinStyle: "round" as const,
          pointRadius: 0,
          tension: 0,
          fill: false,
          order: 3 - i,
          clip: 8,
        })),
      },
      plugins: [innerTicks],
      options: {
        animation: false,
        responsive: true,
        maintainAspectRatio: false,
        layout: { padding: { left: 0, top: PADT, right: PADR, bottom: 0 } },
        plugins: { legend: { display: false }, tooltip: { enabled: false } },
        scales: {
          x: {
            type: "linear",
            min: 1,
            max: p.xMax,
            grid: { display: false, drawTicks: false },
            border: { display: false },
            afterBuildTicks: (scale: any) => {
              scale.ticks = p.ticks.map((v) => ({ value: v }));
            },
            afterFit: (scale: any) => {
              scale.height = PADB;
            },
            ticks: {
              autoSkip: false,
              maxRotation: 0,
              padding: 16,
              color: "#000",
              font: { family: FONT, size: 46 },
              callback: (v: any) => `${mm}/${String(v).padStart(2, "0")}`,
            },
          },
          y: {
            min: 0,
            max: p.yMax,
            grid: { display: true, drawOnChartArea: false, drawTicks: false },
            border: { display: true, color: "#000", width: 3 },
            afterFit: (scale: any) => {
              scale.width = PADL;
            },
            ticks: {
              stepSize: p.yStep,
              padding: 42,
              color: "#000",
              font: { family: FONT, size: 44 },
              callback: (v: any) => String(v),
            },
          },
        },
      },
    });
    // redraw once the serif face is surely available to the canvas
    const fonts = (document as any).fonts;
    if (fonts && fonts.load) {
      fonts.load(`44px ${FONT}`).then(() => chart.update()).catch(() => {});
    }
    return () => chart.destroy();
  }, [p]);

  const { left, right, top, bottom } = p.box;
  return (
    <>
      <div
        style={{
          position: "absolute",
          left: left - PADL,
          top: top - PADT,
          width: right - left + PADL + PADR,
          height: bottom - top + PADT + PADB,
        }}
      >
        <canvas ref={canvasRef} />
      </div>
      <div
        style={{
          position: "absolute",
          right: W - p.labelRight,
          top: p.labelTop,
          fontFamily: FONT,
          fontSize: 58,
          lineHeight: 1,
          color: "#000",
          whiteSpace: "nowrap",
        }}
      >
        {p.name}
      </div>
    </>
  );
}

function Legend() {
  const rows = [93, 164, 235];
  return (
    <>
      {seriesNames.map((name, i) => (
        <div key={name}>
          <svg
            width={76}
            height={10}
            style={{ position: "absolute", left: 416, top: rows[i] - 5 }}
          >
            <line
              x1={0}
              y1={5}
              x2={76}
              y2={5}
              stroke={seriesColors[i]}
              strokeWidth={4}
              strokeDasharray={i === 2 ? "13 8" : undefined}
            />
          </svg>
          <div
            style={{
              position: "absolute",
              left: 500,
              top: rows[i] - 24,
              fontFamily: FONT,
              fontSize: 48,
              lineHeight: 1,
              whiteSpace: "nowrap",
              color: "#000",
            }}
          >
            {name}
          </div>
        </div>
      ))}
    </>
  );
}

export default function App() {
  return (
    <div
      style={{
        position: "absolute",
        left: 0,
        top: 0,
        width: W,
        height: H,
        overflow: "hidden",
        background: "#fff",
      }}
    >
      {panels.map((p) => (
        <Panel key={p.name} p={p} />
      ))}
      <Legend />
      <div
        style={{
          position: "absolute",
          left: 30,
          top: 1598,
          transform: "translate(-50%, -50%) rotate(-90deg)",
          fontFamily: FONT,
          fontSize: 61,
          lineHeight: 1,
          whiteSpace: "nowrap",
          color: "#000",
        }}
      >
        Rain rate (mm h<sup style={{ fontSize: "60%", verticalAlign: "super", lineHeight: 0 }}>-1</sup>)
      </div>
      <div
        style={{
          position: "absolute",
          left: 1072,
          top: 3280,
          transform: "translateX(-50%)",
          fontFamily: FONT,
          fontSize: 60,
          lineHeight: 1,
          whiteSpace: "nowrap",
          color: "#000",
        }}
      >
        Time
      </div>
    </div>
  );
}
